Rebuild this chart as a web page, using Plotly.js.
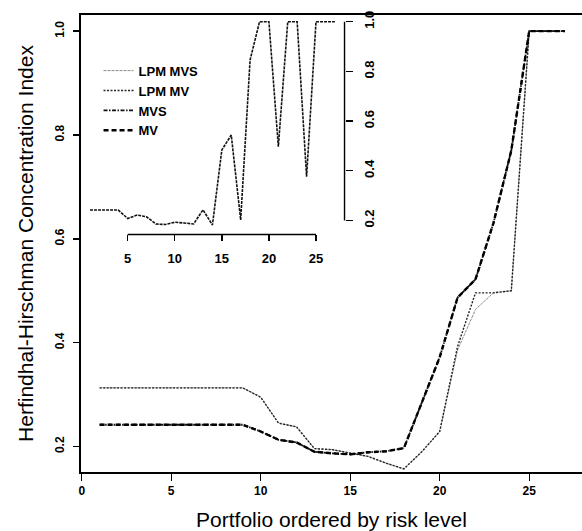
<!DOCTYPE html>
<html>
<head>
<meta charset="utf-8">
<script src="https://cdn.plot.ly/plotly-3.0.1.min.js"></script>
<style>
html,body{margin:0;padding:0;background:#ffffff;}
#chart{width:582px;height:531px;}
</style>
</head>
<body>
<div id="chart"></div>
<script>
// Portfolio index (ordered by risk level)
const portfolio = [1,2,3,4,5,6,7,8,9,10,11,12,13,14,15,16,17,18,19,20,21,22,23,24,25,26,27];

// Herfindahl-Hirschman concentration index per strategy (main panel)
const lpmMVS = [0.313,0.313,0.313,0.313,0.313,0.313,0.313,0.313,0.313,0.295,0.245,0.238,0.196,0.194,0.188,0.181,0.168,0.157,0.190,0.229,0.386,0.464,0.496,0.500,1.000,1.000,1.000];
const lpmMV  = [0.313,0.313,0.313,0.313,0.313,0.313,0.313,0.313,0.313,0.295,0.245,0.238,0.196,0.194,0.188,0.181,0.168,0.157,0.190,0.229,0.393,0.496,0.496,0.500,1.000,1.000,1.000];
const mvs    = [0.242,0.242,0.242,0.242,0.242,0.242,0.242,0.242,0.242,0.229,0.213,0.208,0.190,0.187,0.185,0.189,0.191,0.197,0.283,0.372,0.487,0.522,0.630,0.770,1.000,1.000,1.000];
const mv     = [0.242,0.242,0.242,0.242,0.242,0.242,0.242,0.242,0.242,0.229,0.213,0.208,0.190,0.187,0.185,0.189,0.191,0.197,0.283,0.372,0.487,0.522,0.630,0.770,1.000,1.000,1.000];

// Inset panel series
const insetSeries = [0.242,0.242,0.242,0.242,0.208,0.222,0.215,0.186,0.184,0.193,0.190,0.186,0.243,0.182,0.484,0.544,0.202,0.846,1.000,1.000,0.497,1.000,1.000,0.376,1.000,1.000,1.000];

// Legend names
const seriesNames = ["LPM MVS","LPM MV","MVS","MV"];

// Tick labels
const mainXTicks = [0,5,10,15,20,25];
const mainYTicks = [0.2,0.4,0.6,0.8,1.0];
const mainYTickText = ["0.2","0.4","0.6","0.8","1.0"];
const insetXTicks = [5,10,15,20,25];
const insetYTicks = [0.2,0.4,0.6,0.8,1.0];
const insetYTickText = ["0.2","0.4","0.6","0.8","1.0"];

const FONT = "Liberation Sans, Arial, Helvetica, sans-serif";
const insetXDomain = [0, 0.526];
const insetYDomain = [0.5197, 1];

const traces = [
  {x: portfolio, y: lpmMVS, name: seriesNames[0], type: "scatter", mode: "lines",
   line: {color: "#8a8a8a", width: 1, dash: "3px,1px"}, xaxis: "x", yaxis: "y", legendrank: 1},
  {x: portfolio, y: lpmMV, name: seriesNames[1], type: "scatter", mode: "lines",
   line: {color: "#222222", width: 1.4, dash: "2px,1.5px"}, xaxis: "x", yaxis: "y", legendrank: 2},
  {x: portfolio, y: mvs, name: seriesNames[2], type: "scatter", mode: "lines",
   line: {color: "#111111", width: 1.8, dash: "4px,1.5px,1.5px,1.5px"}, xaxis: "x", yaxis: "y", legendrank: 3},
  {x: portfolio, y: mv, name: seriesNames[3], type: "scatter", mode: "lines",
   line: {color: "#000000", width: 2.4, dash: "5px,3px"}, xaxis: "x", yaxis: "y", legendrank: 4},
  {x: portfolio, y: insetSeries, name: "inset", showlegend: false, type: "scatter", mode: "lines",
   line: {color: "#111111", width: 1.6, dash: "3px,1px"}, xaxis: "x2", yaxis: "y2"}
];

const tickFont = {family: FONT, size: 12, color: "#000000", weight: "bold"};
const insetTickFont = {family: FONT, size: 13, color: "#000000", weight: "bold"};

const layout = {
  width: 582, height: 531,
  margin: {l: 81, r: 0, t: 15, b: 59},
  paper_bgcolor: "#ffffff", plot_bgcolor: "rgba(0,0,0,0)",
  font: {family: FONT, color: "#000000"},
  showlegend: true,
  legend: {
    x: 0.035, y: 0.911, xanchor: "left", yanchor: "top",
    bgcolor: "rgba(0,0,0,0)", borderwidth: 0,
    font: {family: FONT, size: 13, color: "#000000", weight: "bold"},
    tracegroupgap: 0, itemwidth: 30
  },
  xaxis: {
    domain: [0, 1], range: [-0.04, 27.95], anchor: "y",
    showline: true, linecolor: "#000000", linewidth: 1.6, mirror: true,
    ticks: "outside", ticklen: 7, tickwidth: 1.4, tickcolor: "#000000",
    tickvals: mainXTicks, ticktext: mainXTicks.map(String),
    tickfont: tickFont,
    showgrid: false, zeroline: false,
    title: {text: "Portfolio ordered by risk level", font: {family: FONT, size: 21, color: "#000000"}, standoff: 17}
  },
  yaxis: {
    domain: [0, 1], range: [0.151, 1.031], anchor: "x",
    showline: true, linecolor: "#000000", linewidth: 1.6, mirror: false,
    ticks: "outside", ticklen: 6, tickwidth: 1.4, tickcolor: "#000000",
    tickvals: mainYTicks, ticktext: mainYTickText, tickangle: -90,
    ticklabelstandoff: 5,
    tickfont: tickFont,
    showgrid: false, zeroline: false,
    title: {text: "Herfindhal-Hirschman Concentration Index", font: {family: FONT, size: 21, color: "#000000"}, standoff: 13}
  },
  xaxis2: {
    domain: insetXDomain, range: [0.04, 28.03], anchor: "y2",
    showline: false, ticks: "outside", ticklen: 6, tickwidth: 1.3, tickcolor: "#000000",
    tickvals: insetXTicks, ticktext: insetXTicks.map(String),
    ticklabelstandoff: 6,
    tickfont: insetTickFont,
    showgrid: false, zeroline: false
  },
  yaxis2: {
    domain: insetYDomain, range: [0.1437, 1.027], anchor: "x2", side: "right",
    showline: false, ticks: "outside", ticklen: 7, tickwidth: 1.3, tickcolor: "#000000",
    tickvals: insetYTicks, ticktext: insetYTickText, tickangle: -90,
    ticklabelstandoff: 6,
    tickfont: insetTickFont,
    showgrid: false, zeroline: false
  },
  shapes: [
    {type: "line", xref: "x2", yref: "paper",
     x0: insetXTicks[0], x1: insetXTicks[insetXTicks.length - 1],
     y0: insetYDomain[0], y1: insetYDomain[0],
     line: {color: "#000000", width: 1.4}},
    {type: "line", xref: "paper", yref: "y2",
     x0: insetXDomain[1], x1: insetXDomain[1],
     y0: insetYTicks[0], y1: insetYTicks[insetYTicks.length - 1],
     line: {color: "#000000", width: 1.4}}
  ]
};

Plotly.newPlot("chart", traces, layout, {displayModeBar: false, staticPlot: true});
</script>
</body>
</html>
